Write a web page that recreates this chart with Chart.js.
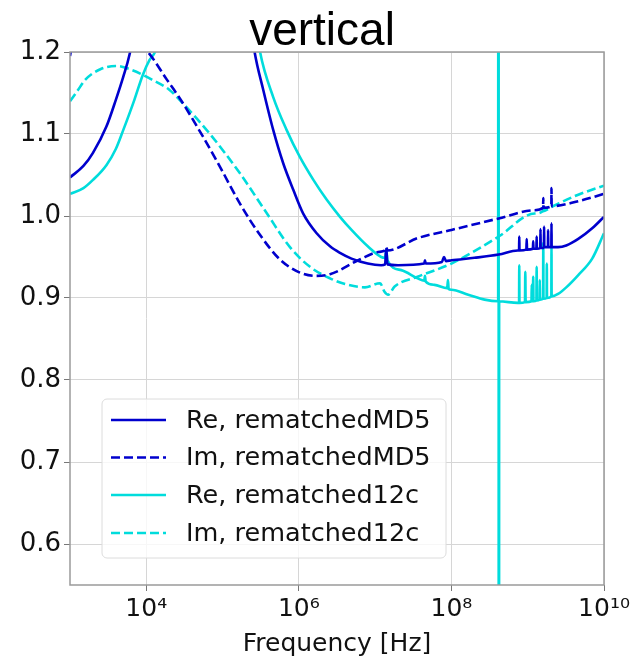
<!DOCTYPE html>
<html><head><meta charset="utf-8">
<script src="https://cdn.jsdelivr.net/npm/chart.js@4.4.1/dist/chart.umd.min.js"></script>
<style>html,body{margin:0;padding:0;background:#fff}</style>
</head><body>
<canvas id="c" width="637" height="660" style="width:637px;height:660px;display:block"></canvas>
<script>
// ---------- data ----------
const chartTitle = 'vertical';
const xAxisTitle = 'Frequency [Hz]';
const seriesLabels = ['Re, rematchedMD5', 'Im, rematchedMD5', 'Re, rematched12c', 'Im, rematched12c'];
const xTickValues = [1e4, 1e6, 1e8, 1e10];
const xTickLabels = ['10\u2074', '10\u2076', '10\u2078', '10\u00B9\u2070'];
const yTickValues = [0.6, 0.7, 0.8, 0.9, 1.0, 1.1, 1.2];

// Re, rematchedMD5
const reMD5Freq = [1e3, 1.5e3, 2e3, 3e3, 4e3, 5e3, 6e3, 7e3, 8e3, 1e4, 2e4, 5e4, 1e5, 2e5,
  2.63e5, 3.41e5, 4.61e5, 6.25e5, 8.45e5, 1.14e6, 1.71e6, 2.56e6, 3.46e6, 4.9e6, 8e6, 1.2e7, 1.35e7, 1.4e7, 1.45e7,
  2e7, 4.4e7, 4.5e7, 4.6e7, 7.5e7, 8e7, 8.5e7, 1e8, 2e8, 4.17e8, 7.4e8,
  7.7e8, 7.75e8, 7.8e8, 9.6e8, 9.7e8, 9.8e8, 1.17e9, 1.18e9, 1.19e9, 1.3e9, 1.31e9, 1.32e9,
  1.46e9, 1.47e9, 1.48e9, 1.63e9, 1.64e9, 1.65e9, 1.84e9, 1.85e9, 1.86e9, 2.04e9, 2.05e9, 2.06e9,
  2.5e9, 3.2e9, 4.6e9, 7e9, 1e10];
const reMD5Val = [1.047, 1.061, 1.077, 1.109, 1.142, 1.170, 1.196, 1.23, 1.30, 1.6, 2.0, 1.8, 1.5, 1.28,
  1.200, 1.154, 1.105, 1.064, 1.032, 1.003, 0.979, 0.963, 0.955, 0.948, 0.942, 0.940, 0.941, 0.960, 0.941,
  0.940, 0.942, 0.946, 0.942, 0.944, 0.950, 0.945, 0.946, 0.949, 0.953, 0.958,
  0.958, 0.975, 0.958, 0.959, 0.972, 0.959, 0.960, 0.969, 0.960, 0.960, 0.975, 0.960,
  0.961, 0.984, 0.961, 0.961, 0.987, 0.962, 0.962, 0.983, 0.962, 0.962, 0.991, 0.962,
  0.962, 0.964, 0.972, 0.985, 0.999];

// Im, rematchedMD5
const imMD5Freq = [1e3, 1.1e3, 1.5e3, 3e3, 6e3, 9e3, 1.05e4, 1.87e4, 2.77e4, 5.06e4, 9.25e4, 1.69e5, 3.09e5, 5.65e5,
  1.03e6, 1.63e6, 2.56e6, 6.3e6, 1.09e7, 1.35e7, 1.4e7, 1.45e7, 3.6e7, 1e8, 4.17e8, 1.23e9,
  1.59e9, 1.6e9, 1.61e9, 2.04e9, 2.05e9, 2.06e9, 4.6e9, 1e10];
const imMD5Val = [1.195, 1.22, 1.35, 1.7, 1.45, 1.212, 1.200, 1.166, 1.143, 1.103, 1.060, 1.015, 0.977, 0.947,
  0.931, 0.927, 0.929, 0.947, 0.956, 0.958, 0.962, 0.958, 0.973, 0.983, 0.997, 1.007,
  1.010, 1.022, 1.010, 1.012, 1.034, 1.012, 1.018, 1.027];

// Re, rematched12c
const re12cFreq = [1e3, 1.5e3, 2e3, 3e3, 4e3, 5e3, 7e3, 9e3, 1.1e4, 1.3e4, 1.5e4, 2e4, 5e4, 1e5, 2e5,
  3.1e5, 4.61e5, 6.9e5, 1.03e6, 1.55e6, 2.31e6, 3.46e6, 4.9e6, 8e6, 1.2e7, 1.35e7, 1.4e7, 1.45e7, 2.2e7,
  3.6e7, 4.4e7, 4.5e7, 4.6e7, 6e7, 8.8e7, 9e7, 9.2e7, 1e8, 1.66e8, 2.72e8, 4.1e8, 4.15e8, 4.18e8, 4.22e8,
  7.4e8, 7.7e8, 7.75e8, 7.8e8, 9.2e8, 9.3e8, 9.4e8, 1.12e9, 1.13e9, 1.14e9, 1.17e9, 1.18e9, 1.19e9,
  1.3e9, 1.31e9, 1.32e9, 1.43e9, 1.44e9, 1.45e9, 1.59e9, 1.6e9, 1.61e9, 1.77e9, 1.78e9, 1.79e9,
  2.04e9, 2.05e9, 2.06e9, 2.5e9, 3.2e9, 4.6e9, 7e9, 1e10];
const re12cVal = [1.027, 1.034, 1.044, 1.062, 1.082, 1.105, 1.142, 1.172, 1.190, 1.200, 1.22, 1.3, 1.8, 1.6, 1.32,
  1.200, 1.145, 1.105, 1.072, 1.044, 1.020, 0.999, 0.983, 0.963, 0.950, 0.949, 0.959, 0.946, 0.934,
  0.924, 0.921, 0.927, 0.920, 0.916, 0.912, 0.922, 0.911, 0.910, 0.904, 0.898, 0.896, 3.0, -2.0, 0.896,
  0.894, 0.894, 0.940, 0.894, 0.895, 0.932, 0.895, 0.896, 0.916, 0.896, 0.896, 0.926, 0.896,
  0.897, 0.938, 0.897, 0.898, 0.922, 0.898, 0.899, 0.967, 0.899, 0.900, 0.942, 0.900,
  0.902, 0.962, 0.902, 0.905, 0.913, 0.928, 0.948, 0.979];

// Im, rematched12c
const im12cFreq = [1e3, 1.26e3, 1.58e3, 2.5e3, 4e3, 6.5e3, 1.2e4, 2e4, 2.77e4, 6.84e4, 1.69e5, 3.82e5,
  7.64e5, 1.4e6, 2.56e6, 4.03e6, 7.35e6, 1.16e7, 1.32e7, 1.48e7, 1.8e7, 3.6e7, 1e8, 4.17e8, 1.23e9,
  1.59e9, 1.6e9, 1.61e9, 2.04e9, 4.6e9, 1e10];
const im12cVal = [1.140, 1.153, 1.166, 1.179, 1.183, 1.178, 1.166, 1.154, 1.141, 1.100, 1.052, 1.003,
  0.962, 0.938, 0.924, 0.917, 0.913, 0.918, 0.908, 0.904, 0.914, 0.926, 0.942, 0.975, 1.003,
  1.006, 1.014, 1.006, 1.011, 1.026, 1.037];

// ---------- chart ----------
const BLUE = '#0000cd';
const CYAN = '#00dcdc';
const FONT = '"DejaVu Sans", sans-serif';

function pts(fs, vs) { return fs.map((f, i) => ({ x: f, y: vs[i] })); }

const dashPattern = [9, 4];
const datasets = [
  { label: seriesLabels[0], data: pts(reMD5Freq, reMD5Val), borderColor: BLUE, borderDash: [] },
  { label: seriesLabels[1], data: pts(imMD5Freq, imMD5Val), borderColor: BLUE, borderDash: dashPattern },
  { label: seriesLabels[2], data: pts(re12cFreq, re12cVal), borderColor: CYAN, borderDash: [] },
  { label: seriesLabels[3], data: pts(im12cFreq, im12cVal), borderColor: CYAN, borderDash: dashPattern }
].map(d => Object.assign(d, {
  borderWidth: 2.6, pointRadius: 0, cubicInterpolationMode: 'monotone', fill: false, backgroundColor: d.borderColor
}));

const framePlugin = {
  id: 'frame',
  afterDatasetsDraw(chart) {
    const { ctx, chartArea: a } = chart;
    ctx.save();
    ctx.strokeStyle = '#9a9a9a';
    ctx.lineWidth = 1.5;
    ctx.strokeRect(a.left, a.top, a.right - a.left, a.bottom - a.top);
    ctx.restore();
  }
};

const legendPlugin = {
  id: 'boxLegend',
  afterDraw(chart) {
    const ctx = chart.ctx;
    const bx = 102, by = 399, bw = 344, bh = 159, r = 5;
    ctx.save();
    ctx.beginPath();
    ctx.moveTo(bx + r, by);
    ctx.arcTo(bx + bw, by, bx + bw, by + bh, r);
    ctx.arcTo(bx + bw, by + bh, bx, by + bh, r);
    ctx.arcTo(bx, by + bh, bx, by, r);
    ctx.arcTo(bx, by, bx + bw, by, r);
    ctx.closePath();
    ctx.fillStyle = 'rgba(255,255,255,0.8)';
    ctx.fill();
    ctx.strokeStyle = '#dcdcdc';
    ctx.lineWidth = 1;
    ctx.stroke();
    const rows = [420, 457.5, 495, 533];
    chart.data.datasets.forEach((ds, i) => {
      const y = rows[i];
      ctx.beginPath();
      ctx.setLineDash(ds.borderDash || []);
      ctx.strokeStyle = ds.borderColor;
      ctx.lineWidth = ds.borderWidth;
      ctx.moveTo(111, y);
      ctx.lineTo(166, y);
      ctx.stroke();
      ctx.setLineDash([]);
      ctx.fillStyle = '#111';
      ctx.font = '25.5px ' + FONT;
      ctx.textBaseline = 'middle';
      ctx.textAlign = 'left';
      ctx.fillText(ds.label, 186, y + 1);
    });
    ctx.restore();
  }
};

const titlePlugin = {
  id: 'topTitle',
  afterDraw(chart) {
    const ctx = chart.ctx;
    ctx.save();
    ctx.fillStyle = '#000';
    ctx.font = '46px "Liberation Sans", Arial, sans-serif';
    ctx.textAlign = 'center';
    ctx.textBaseline = 'alphabetic';
    ctx.fillText(chartTitle, 322, 45);
    ctx.restore();
  }
};

new Chart(document.getElementById('c'), {
  type: 'line',
  data: { datasets },
  options: {
    responsive: false,
    animation: false,
    devicePixelRatio: 1,
    layout: { padding: { top: 52, right: 33, left: 0, bottom: 0 } },
    plugins: { legend: { display: false }, title: { display: false }, tooltip: { enabled: false } },
    scales: {
      x: {
        type: 'logarithmic',
        min: 1e3, max: 1e10,
        afterBuildTicks: s => { s.ticks = xTickValues.map(v => ({ value: v })); },
        afterFit: s => { s.height = 75; s.paddingLeft = 0; s.paddingRight = 0; },
        ticks: {
          autoSkip: false, maxRotation: 0, minRotation: 0, padding: 3,
          color: '#111', font: { family: FONT, size: 25 },
          callback: v => xTickLabels[xTickValues.indexOf(v)]
        },
        grid: { color: '#d6d6d6', lineWidth: 1, drawTicks: true, tickLength: 6, tickColor: '#777' },
        border: { display: false },
        title: { display: true, text: xAxisTitle, color: '#111', font: { family: FONT, size: 25 }, padding: { top: 2, bottom: 1 } }
      },
      y: {
        type: 'linear',
        min: 0.55, max: 1.2,
        afterBuildTicks: s => { s.ticks = yTickValues.map(v => ({ value: v })); },
        afterFit: s => { s.width = 70; s.paddingTop = 0; s.paddingBottom = 0; },
        ticks: {
          autoSkip: false, padding: 3,
          color: '#111', font: { family: FONT, size: 26 },
          callback: v => Number(v).toFixed(1)
        },
        grid: { color: '#d6d6d6', lineWidth: 1, drawTicks: true, tickLength: 6, tickColor: '#777' },
        border: { display: false }
      }
    }
  },
  plugins: [framePlugin, legendPlugin, titlePlugin]
});
</script>
</body></html>
